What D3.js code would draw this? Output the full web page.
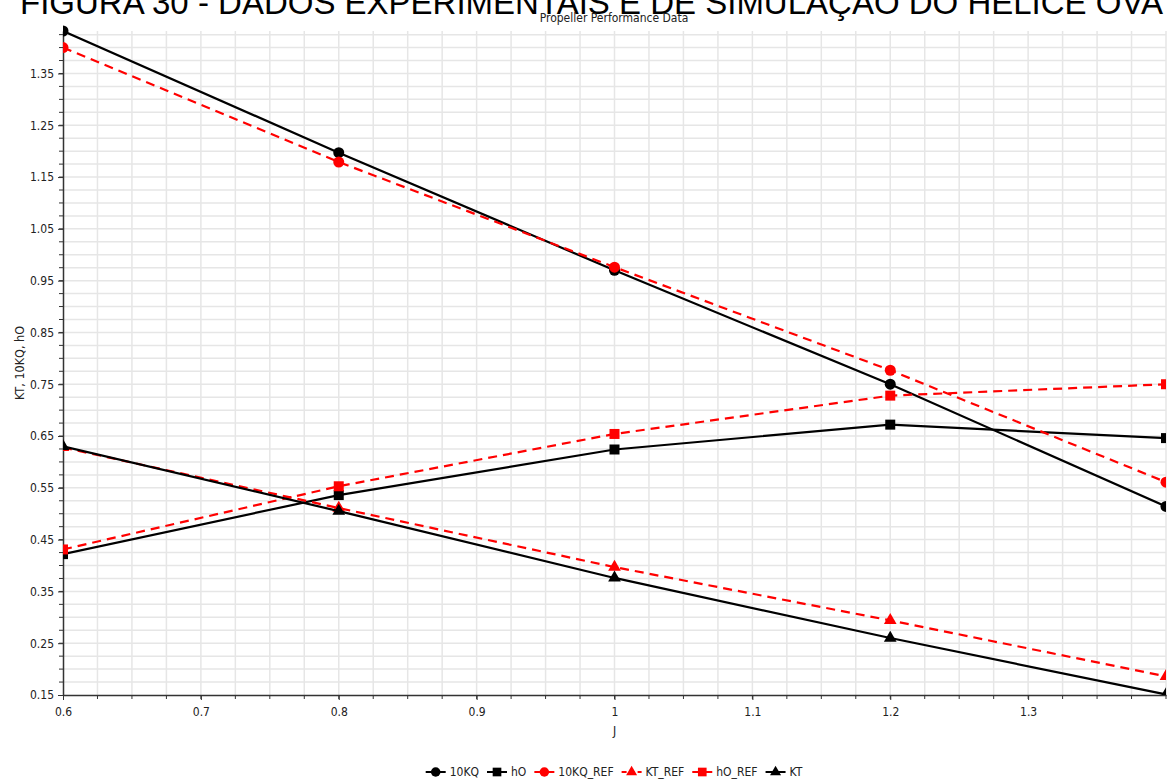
<!DOCTYPE html>
<html>
<head>
<meta charset="utf-8">
<script src="https://cdn.jsdelivr.net/npm/d3@7"></script>
<style>
  body { margin: 0; background: #fff; overflow: hidden; }
  text { font-family: "DejaVu Sans Condensed", "DejaVu Sans", sans-serif; fill: #222; }
</style>
</head>
<body>
<svg id="chart" width="1169" height="780"></svg>
<script>
// advance ratio values
const jValues = [0.6, 0.8, 1.0, 1.2, 1.4];

// series
const kq10 = [1.432, 1.197, 0.970, 0.750, 0.514];
const hO = [0.422, 0.536, 0.624, 0.672, 0.646];
const kq10Ref = [1.400, 1.179, 0.976, 0.777, 0.561];
const ktRef = [0.628, 0.511, 0.397, 0.294, 0.186];
const hORef = [0.431, 0.553, 0.654, 0.728, 0.750];
const kt = [0.630, 0.505, 0.376, 0.260, 0.151];

const yTickLabels = ['0.15', '0.25', '0.35', '0.45', '0.55', '0.65', '0.75', '0.85', '0.95', '1.05', '1.15', '1.25', '1.35'];
const xTickLabels = ['0.6', '0.7', '0.8', '0.9', '1', '1.1', '1.2', '1.3'];

const series = [
    {name: '10KQ', values: kq10, color: '#000', dashed: false, marker: 'circle'},
    {name: 'hO', values: hO, color: '#000', dashed: false, marker: 'square'},
    {name: '10KQ_REF', values: kq10Ref, color: '#ff0000', dashed: true, marker: 'circle'},
    {name: 'KT_REF', values: ktRef, color: '#ff0000', dashed: true, marker: 'triangle'},
    {name: 'hO_REF', values: hORef, color: '#ff0000', dashed: true, marker: 'square'},
    {name: 'KT', values: kt, color: '#000', dashed: false, marker: 'triangle'}
];

const svg = d3.select('#chart');
const plot = {left: 63, right: 1166, top: 31, bottom: 695};

const x = d3.scaleLinear().domain([0.6, 1.4]).range([plot.left, plot.right]);
const y = d3.scaleLinear().domain([0.15, 1.432]).range([plot.bottom, plot.top]);

// big caption at the very top, cropped by the page edge as in the scan
svg.append('text')
    .attr('x', 20).attr('y', 14)
    .style('font-family', '"Liberation Sans", Arial, sans-serif')
    .style('font-size', '33px')
    .style('fill', '#000')
    .text('FIGURA 30 - DADOS EXPERIMENTAIS E DE SIMULAÇÃO DO HÉLICE OVA');

svg.append('text')
    .attr('x', 614).attr('y', 22)
    .attr('text-anchor', 'middle')
    .style('font-size', '12px')
    .text('Propeller Performance Data');

// grid (every 0.025)
const xGrid = d3.range(0.6, 1.4001, 0.025).filter((v) => v > 0.601);
const yGrid = d3.range(0.15, 1.432, 0.025).filter((v) => v > 0.151);

svg.append('g').selectAll('line').data(xGrid).join('line')
    .attr('x1', (d) => x(d)).attr('x2', (d) => x(d))
    .attr('y1', plot.top).attr('y2', plot.bottom)
    .attr('stroke', '#e6e6e6').attr('stroke-width', 1.5);

svg.append('g').selectAll('line').data(yGrid).join('line')
    .attr('x1', plot.left).attr('x2', plot.right)
    .attr('y1', (d) => y(d)).attr('y2', (d) => y(d))
    .attr('stroke', '#e6e6e6').attr('stroke-width', 1.5);

// axes
const xAxis = d3.axisBottom(x)
    .tickValues(xTickLabels.map(Number))
    .tickFormat((d, i) => xTickLabels[i])
    .tickSize(5).tickSizeOuter(0);
const gx = svg.append('g').attr('transform', `translate(0,${plot.bottom})`).call(xAxis);
gx.append('g').selectAll('line').data(xGrid).join('line')
    .attr('x1', (d) => x(d)).attr('x2', (d) => x(d))
    .attr('y1', 0).attr('y2', 4).attr('stroke', '#333');

const yAxis = d3.axisLeft(y)
    .tickValues(yTickLabels.map(Number))
    .tickFormat((d, i) => yTickLabels[i])
    .tickSize(5).tickSizeOuter(0);
const gy = svg.append('g').attr('transform', `translate(${plot.left},0)`).call(yAxis);
gy.append('g').selectAll('line').data(yGrid).join('line')
    .attr('x1', -4).attr('x2', 0)
    .attr('y1', (d) => y(d)).attr('y2', (d) => y(d)).attr('stroke', '#333');

[gx, gy].forEach((g) => {
    g.select('.domain').attr('stroke', '#333').attr('stroke-width', 1.5);
    g.selectAll('.tick line').attr('stroke', '#333');
    g.selectAll('.tick text').style('font-size', '12px')
        .style('font-family', '"DejaVu Sans Condensed", "DejaVu Sans", sans-serif').attr('fill', '#222');
});
gx.selectAll('.tick text').attr('dy', '1.1em');
gy.selectAll('.tick text').attr('dx', '-1px');

svg.append('text')
    .attr('transform', `translate(24,${(plot.top + plot.bottom) / 2}) rotate(-90)`)
    .attr('text-anchor', 'middle')
    .style('font-size', '12.5px')
    .text('KT, 10KQ, hO');

svg.append('text')
    .attr('x', (plot.left + plot.right) / 2).attr('y', 735)
    .attr('text-anchor', 'middle')
    .style('font-size', '12px')
    .text('J');

// clip for lines and markers
svg.append('clipPath').attr('id', 'plotClip').append('rect')
    .attr('x', plot.left).attr('y', plot.top - 10)
    .attr('width', plot.right - plot.left).attr('height', plot.bottom - plot.top + 10);

const markerPath = (type, size) => {
    const sym = type === 'circle' ? d3.symbolCircle : type === 'square' ? d3.symbolSquare : d3.symbolTriangle;
    return d3.symbol().type(sym).size(size)();
};
const markerSize = {circle: 95, square: 100, triangle: 70};

const line = d3.line().x((d, i) => x(jValues[i])).y((d) => y(d));
const gLines = svg.append('g').attr('clip-path', 'url(#plotClip)');

series.forEach((s) => {
    gLines.append('path')
        .attr('d', line(s.values))
        .attr('fill', 'none')
        .attr('stroke', s.color)
        .attr('stroke-width', 2.2)
        .attr('stroke-dasharray', s.dashed ? '9,6' : null);
    gLines.append('g').selectAll('path').data(s.values).join('path')
        .attr('transform', (d, i) => `translate(${x(jValues[i])},${y(d)})`)
        .attr('d', markerPath(s.marker, markerSize[s.marker]))
        .attr('fill', s.color);
});

// legend, centred below the chart
const legend = svg.append('g');
let cursor = 0;
series.forEach((s) => {
    const item = legend.append('g');
    item.append('line').attr('x1', 0).attr('x2', 20).attr('y1', 0).attr('y2', 0)
        .attr('stroke', s.color).attr('stroke-width', 2)
        .attr('stroke-dasharray', s.dashed && s.marker === 'triangle' ? '5,3' : null);
    item.append('path').attr('transform', 'translate(10,0)')
        .attr('d', markerPath(s.marker, markerSize[s.marker] * 0.75))
        .attr('fill', s.color);
    const t = item.append('text').attr('x', 24).attr('y', 4).style('font-size', '12px').text(s.name);
    const w = 24 + t.node().getComputedTextLength();
    item.attr('transform', `translate(${cursor},772)`);
    cursor += w + 8;
});
legend.attr('transform', `translate(${614 - (cursor - 8) / 2},0)`);
</script>
</body>
</html>
